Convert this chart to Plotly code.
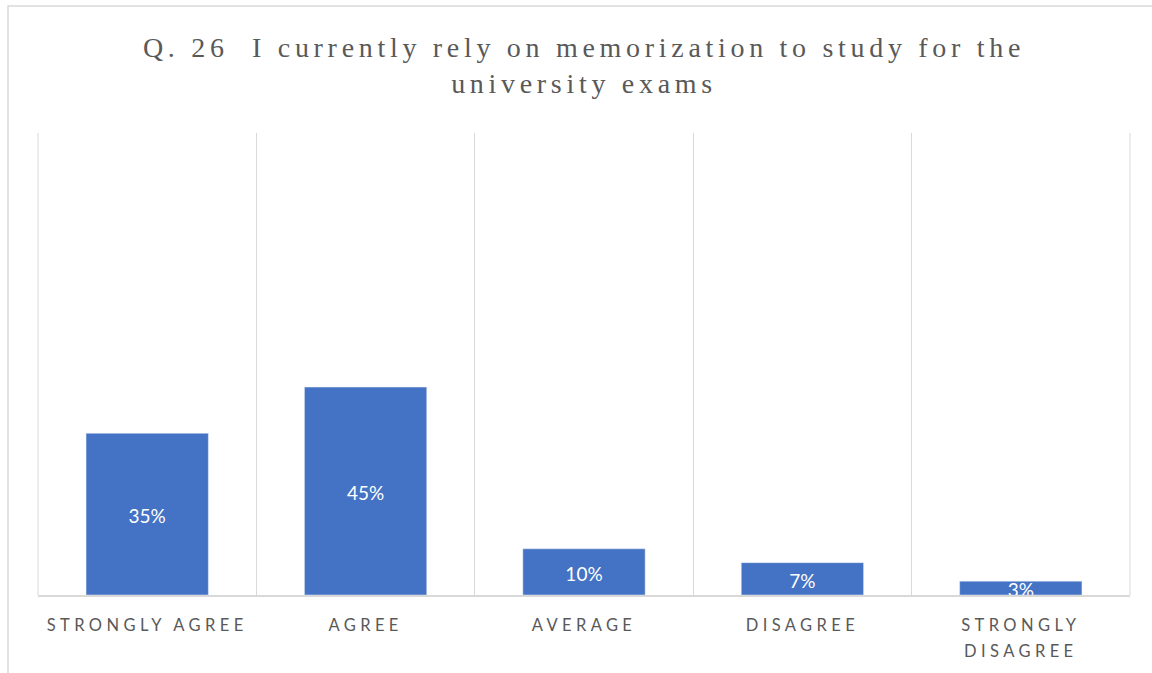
import plotly.graph_objects as go

categories = ["STRONGLY AGREE", "AGREE", "AVERAGE", "DISAGREE", "STRONGLY<br>DISAGREE"]
values = [35, 45, 10, 7, 3]
labels = ["35%", "45%", "10%", "7%", "3%"]
title_text = "Q. 26  I currently rely on memorization to study for the<br>university exams"

fig = go.Figure()
fig.add_trace(go.Bar(
    x=categories, y=values, marker_color="#4472C4", width=0.56,
    hoverinfo="skip", showlegend=False,
))
fig.add_trace(go.Scatter(
    x=categories, y=[v / 2 for v in values], mode="text", text=labels,
    textfont=dict(family="Lato", size=19, color="white"),
    cliponaxis=True, hoverinfo="skip", showlegend=False,
))

grid_color = "#D9D9D9"
fig.update_layout(
    width=1152, height=673,
    margin=dict(l=38, r=22, t=133, b=78),
    paper_bgcolor="white", plot_bgcolor="white",
    title=dict(text=title_text, x=0.5, xref="paper", xanchor="center",
               y=1 - 57 / 673, yref="container", yanchor="top",
               font=dict(family="Liberation Serif", size=28, color="#595959")),
    xaxis=dict(tickson="boundaries", showgrid=True, gridcolor=grid_color, gridwidth=1,
               showline=True, linecolor=grid_color, linewidth=1.5, ticks="",
               range=[-0.5, 4.5], ticklabelstandoff=14,
               tickfont=dict(family="Lato", size=16.5, color="#595959")),
    yaxis=dict(range=[0, 100], showgrid=False, showticklabels=False, zeroline=False,
               showline=False, ticks=""),
    shapes=[
        dict(type="rect", xref="paper", yref="paper",
             x0=(8 - 38) / 1092, x1=1.2, y0=-0.4, y1=(595 - 6) / 462,
             line=dict(color=grid_color, width=1.5), layer="below"),
        dict(type="line", xref="paper", yref="paper", x0=0, x1=0, y0=0, y1=1,
             line=dict(color=grid_color, width=1), layer="below"),
        dict(type="line", xref="paper", yref="paper", x0=1, x1=1, y0=0, y1=1,
             line=dict(color=grid_color, width=1), layer="below"),
    ],
)

post = """
document.body.style.margin = '0';
var s = document.createElement('style');
s.innerHTML = '.gtitle{letter-spacing:4.7px;} .xtick text{letter-spacing:4.4px;} .scatterlayer .textpoint text{transform:translateY(4px);}';
document.head.appendChild(s);
document.querySelectorAll('.xtick text tspan.line').forEach(function(t, i){
  if (t.getAttribute('dy') && t.getAttribute('dy') !== '0em') { t.setAttribute('dy', '1.6em'); }
});
"""
fig.write_html("out.html", post_script=post, config={"displayModeBar": False})
